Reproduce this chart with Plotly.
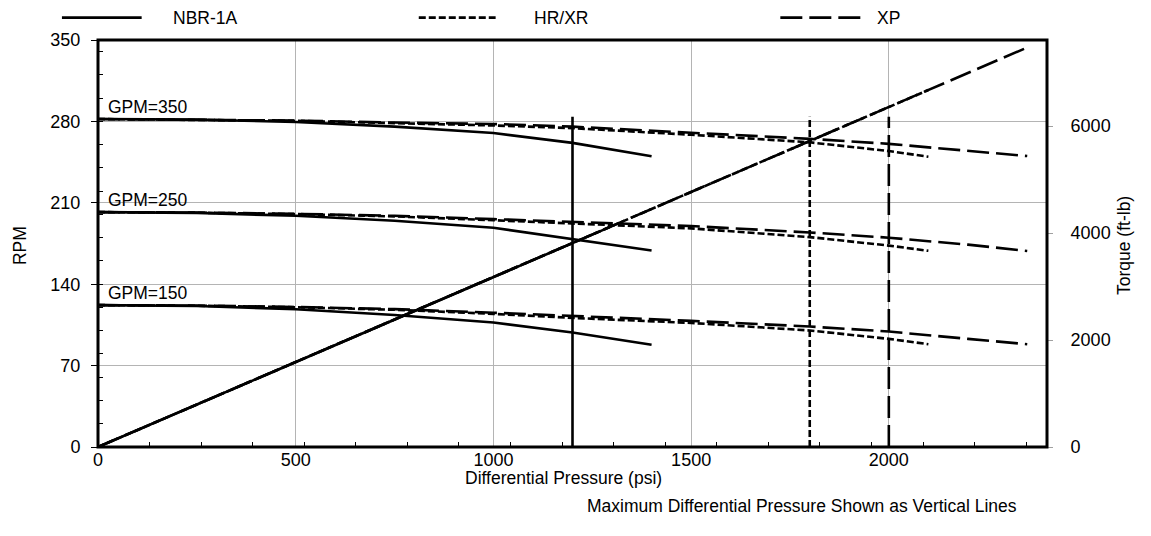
import plotly.graph_objects as go

# ---------------- data ----------------
SERIES = ["NBR-1A", "HR/XR", "XP"]
GPM = [350, 250, 150]

P_NBR = [0, 250, 500, 750, 1000, 1200, 1400]
NBR_350 = [282, 281.5, 279.5, 275.5, 270, 261.5, 250]
NBR_250 = [202, 201.3, 198.8, 194.5, 188.5, 178.5, 169]
NBR_150 = [122, 121.2, 118.5, 113.5, 107, 98.5, 88]

P_HR = [0, 250, 500, 750, 1000, 1200, 1500, 1800, 2000, 2100]
HR_350 = [282, 281.5, 280.5, 278.5, 276.5, 274.2, 268.5, 262, 254.5, 249.6]
HR_250 = [202, 201.5, 200.3, 198.3, 195, 192, 188, 180.5, 173.2, 168.7]
HR_150 = [122, 121.5, 120.2, 118, 114.5, 111, 106.7, 100.2, 93, 88.4]

P_XP = [0, 250, 500, 750, 1000, 1200, 1500, 1800, 2000, 2200, 2350]
XP_350 = [282, 281.6, 280.7, 279, 277.8, 275.5, 270.3, 265, 260.7, 255, 250.2]
XP_250 = [202, 201.6, 200.5, 198.8, 196, 193.8, 190, 184.5, 180, 174, 168.6]
XP_150 = [122, 121.6, 120.4, 118.6, 115.5, 112.7, 108.5, 103.6, 99.3, 93, 88.4]

# torque (ft-lb) vs differential pressure, per motor
TQ_P = {"NBR-1A": [0, 1300], "HR/XR": [0, 2100], "XP": [0, 2350]}
TQ_V = {"NBR-1A": [0, 4130], "HR/XR": [0, 6675], "XP": [0, 7470]}

# maximum differential pressure (vertical lines)
MAX_DP = [1200, 1800, 2000]
MAX_DP_TOP = 284

X_TICKS = [0, 500, 1000, 1500, 2000]
Y_TICKS = [0, 70, 140, 210, 280, 350]
Y2_TICKS = [0, 2000, 4000, 6000]

# ---------------- style ----------------
FONT = "Liberation Sans, Arial, sans-serif"
FS = 17.5
DASH = {"NBR-1A": "solid", "HR/XR": "7px,3px", "XP": "22px,7px"}
LW = 2.6

fig = go.Figure()

curves = {
    "NBR-1A": (P_NBR, [NBR_350, NBR_250, NBR_150]),
    "HR/XR": (P_HR, [HR_350, HR_250, HR_150]),
    "XP": (P_XP, [XP_350, XP_250, XP_150]),
}

for name in ["XP", "HR/XR", "NBR-1A"]:
    px, ys = curves[name]
    for y in ys:
        fig.add_trace(go.Scatter(x=px, y=y, mode="lines", showlegend=False,
                                 line=dict(color="black", width=LW, dash=DASH[name])))
    fig.add_trace(go.Scatter(x=TQ_P[name], y=TQ_V[name], mode="lines", yaxis="y2",
                             showlegend=False,
                             line=dict(color="black", width=LW, dash=DASH[name])))

for name, p in zip(SERIES, MAX_DP):
    fig.add_trace(go.Scatter(x=[p, p], y=[0, MAX_DP_TOP], mode="lines", showlegend=False,
                             line=dict(color="black", width=LW, dash=DASH[name])))

# dummy trace for the inner minor tick axes
fig.add_trace(go.Scatter(x=[0], y=[0], xaxis="x2", yaxis="y3", mode="lines",
                         showlegend=False, hoverinfo="skip", opacity=0))

TXT = dict(size=FS, family=FONT, color="black")

# GPM labels
starts = [NBR_350[0], NBR_250[0], NBR_150[0]]
for g, s in zip(GPM, starts):
    fig.add_annotation(x=20, y=s, text=f"GPM={g}", showarrow=False, xanchor="left",
                       yanchor="bottom", yshift=0, font=TXT)

# manual legend
LEG_Y = 1.055
leg = [(-0.038, 0.046, 0.077), (0.338, 0.419, 0.457), (0.719, 0.804, 0.819)]
for name, (x0, x1, xt) in zip(SERIES, leg):
    fig.add_shape(type="line", xref="paper", yref="paper", x0=x0, x1=x1, y0=LEG_Y, y1=LEG_Y,
                  line=dict(color="black", width=LW, dash=DASH[name]))
    fig.add_annotation(xref="paper", yref="paper", x=xt, y=LEG_Y, text=name, showarrow=False,
                       xanchor="left", yanchor="middle", font=TXT)

# axis titles
fig.add_annotation(xref="paper", yref="paper", x=-0.082, y=0.494, text="RPM", textangle=-90,
                   xanchor="center", yanchor="middle", showarrow=False, font=TXT)
fig.add_annotation(xref="paper", yref="paper", x=1.081, y=0.496, text="Torque (ft-lb)",
                   textangle=-90, xanchor="center", yanchor="middle", showarrow=False, font=TXT)
fig.add_annotation(xref="paper", yref="paper", x=0.491, y=-0.077,
                   text="Differential Pressure (psi)",
                   xanchor="center", yanchor="middle", showarrow=False, font=TXT)
fig.add_annotation(xref="paper", yref="paper", x=0.7414, y=-0.146,
                   text="Maximum Differential Pressure Shown as Vertical Lines",
                   xanchor="center", yanchor="middle", showarrow=False, font=TXT)

# frame
fig.add_shape(type="rect", xref="paper", yref="paper", x0=0, x1=1, y0=0, y1=1,
              line=dict(color="black", width=3), layer="above")

GRID = "#b4b4b4"
# page body has an 8px margin: the figure is sized to fit inside the window
fig.update_layout(
    width=1135, height=520,
    margin=dict(l=90, r=96, t=32, b=81),
    paper_bgcolor="white", plot_bgcolor="white",
    font=dict(family=FONT, size=FS, color="black"),
    showlegend=False,
    xaxis=dict(range=[0, 2400], tickvals=X_TICKS, showgrid=True, gridcolor=GRID, gridwidth=1,
               zeroline=False, showline=False, ticks="", tickfont=dict(size=18)),
    yaxis=dict(range=[0, 350], tickvals=Y_TICKS, showgrid=True, gridcolor=GRID, gridwidth=1,
               zeroline=False, showline=False, ticks="outside", ticklen=6, tickcolor="black",
               ticklabelstandoff=7, tickfont=dict(size=18)),
    yaxis2=dict(range=[0, 7610], tickvals=Y2_TICKS, overlaying="y", side="right", showgrid=False,
                zeroline=False, showline=False, ticks="outside", ticklen=5, tickcolor="#a0a0a0",
                ticklabelstandoff=14, tickfont=dict(size=18)),
    xaxis2=dict(range=[0, 2400], dtick=130.4, tick0=0, overlaying="x", side="bottom", anchor="y",
                showgrid=False, zeroline=False, showticklabels=False, ticks="inside", ticklen=5,
                tickcolor="black", tickwidth=1),
    yaxis3=dict(range=[0, 350], dtick=20, tick0=0, overlaying="y", side="left", anchor="x",
                showgrid=False, zeroline=False, showticklabels=False, ticks="inside", ticklen=5,
                tickcolor="black", tickwidth=1),
)

fig.write_html("out.html")
